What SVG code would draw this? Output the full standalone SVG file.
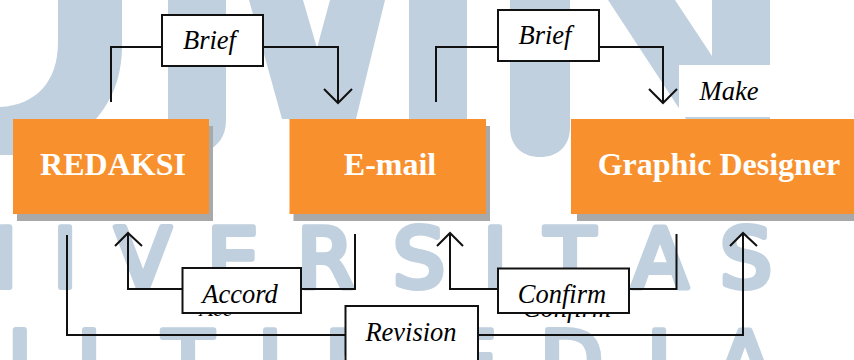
<svg xmlns="http://www.w3.org/2000/svg" width="854" height="360" viewBox="0 0 854 360">
<style>
.wm{fill:#c0d0de}
.wt{font-family:"DejaVu Sans","Liberation Sans",sans-serif;font-size:82px;fill:#c0d0de;stroke:#c0d0de;stroke-width:6px;stroke-linejoin:round}
.sh{fill:#a9a9a9}
.nd{fill:#f8912d}
.nt{font-family:"Liberation Serif",serif;font-weight:bold;font-size:32px;fill:#fff;text-anchor:middle}
.bx{fill:#fff;stroke:#111;stroke-width:2}
.lb{font-family:"Liberation Serif",serif;font-style:italic;font-size:26.500px;fill:#000;text-anchor:middle}
.cn{fill:none;stroke:#111;stroke-width:2}
.ah{fill:none;stroke:#111;stroke-width:2}
</style>
<g id="watermark">
<path class="wm" d="M58 0V42C58 82 36 105 0 107V155H200V119H96C112 100 122 78 122 45V0Z"/>
<path class="wm" d="M168 0H226V120Q226 143 205 152H168Z"/>
<path class="wm" d="M249 0H303L317 48L330 0H385L356 119H282Z"/>
<rect class="wm" x="409" y="0" width="58" height="119"/>
<path class="wm" d="M510 0H570V127C570 147 557 157 540 157C523 157 510 147 510 127Z"/>
<path class="wm" d="M608 0H675L712 56V0H770V119H686Z"/>
<rect x="679" y="65" width="91" height="52" fill="#fff"/>
<text class="wt" y="287" x="-44">N</text>
<text class="wt" y="287" x="53">I</text>
<text class="wt" y="287" x="115">V</text>
<text class="wt" y="287" x="207">E</text>
<text class="wt" y="287" x="297">R</text>
<text class="wt" y="287" x="393">S</text>
<text class="wt" y="287" x="483">I</text>
<text class="wt" y="287" x="545">T</text>
<text class="wt" y="287" x="632">A</text>
<text class="wt" y="287" x="720">S</text>
<text class="wt" y="390" x="-29">U</text>
<text class="wt" y="390" x="77">L</text>
<text class="wt" y="390" x="163">T</text>
<text class="wt" y="390" x="258">I</text>
<text class="wt" y="390" x="325">M</text>
<text class="wt" y="390" x="445">E</text>
<text class="wt" y="390" x="540">D</text>
<text class="wt" y="390" x="647">I</text>
<text class="wt" y="390" x="717">A</text>
</g>
<g id="connectors">
<path class="cn" d="M111 102V47H162"/>
<path class="cn" d="M263 47H338V103"/>
<path class="ah" d="M324 89L338 103L352 89"/>
<path class="cn" d="M436 102V47H498"/>
<path class="cn" d="M599 47H663V103"/>
<path class="ah" d="M649 89L663 103L677 89"/>
<path class="cn" d="M128 233V289H182"/>
<path class="ah" d="M115 246L128 233L142 246"/>
<path class="cn" d="M301 289H355V234"/>
<path class="cn" d="M450 233V289H498"/>
<path class="ah" d="M437 246L450 233L463 246"/>
<path class="cn" d="M629 289H676.500V234"/>
<path class="cn" d="M67 235V335H345"/>
<path class="cn" d="M478 335H743V233"/>
<path class="ah" d="M730 246L743 233L757 246"/>
</g>
<g id="redaksi"><rect class="sh" x="17" y="126" width="196" height="95"/><rect class="nd" x="13" y="119" width="196" height="95"/><text class="nt" x="113" y="175">REDAKSI</text></g>
<g id="email"><rect class="sh" x="293.500" y="126" width="196.500" height="95"/><rect class="nd" x="289.500" y="119" width="196.500" height="95"/><text class="nt" x="390" y="175">E-mail</text></g>
<g id="graphic-designer"><rect class="sh" x="577" y="126" width="277" height="95"/><rect class="nd" x="571" y="119" width="283" height="95"/><text class="nt" x="719" y="175">Graphic Designer</text></g>
<g id="label-brief-1"><rect class="bx" x="162" y="15" width="101" height="51"/><text class="lb" x="209.500" y="48.500">Brief</text></g>
<g id="label-brief-2"><rect class="bx" x="498" y="10" width="101" height="51"/><text class="lb" x="545" y="44">Brief</text></g>
<g id="label-make"><text class="lb" x="729" y="100">Make</text></g>
<g id="label-accord"><text class="lb" x="216" y="316" style="font-size:22px">Acc</text><rect class="bx" x="182.500" y="268" width="118.500" height="45"/><text class="lb" x="240" y="303">Accord</text></g>
<g id="label-confirm"><text class="lb" x="567" y="316.500">Confirm</text><rect class="bx" x="498" y="268.500" width="131" height="44.500"/><text class="lb" x="562" y="303">Confirm</text></g>
<g id="label-revision"><rect class="bx" x="345.500" y="306" width="132.500" height="60"/><text class="lb" x="411" y="341">Revision</text></g>
</svg>
